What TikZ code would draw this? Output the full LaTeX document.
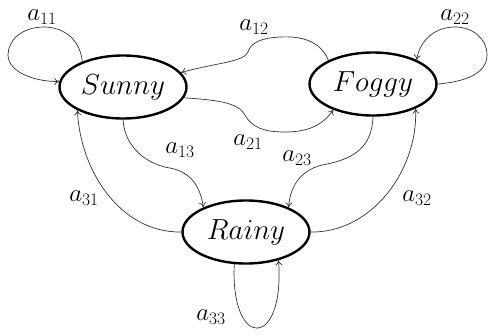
\RequirePackage{fix-cm}
\documentclass[tikz,border=0pt]{standalone}
\usetikzlibrary{shapes.geometric,arrows.meta}
\begin{document}
\begin{tikzpicture}[x=1pt,y=-1pt,
  state/.style={ellipse,draw=black,line width=2.4pt,inner sep=0pt,minimum width=127pt,minimum height=63pt,font=\fontsize{29}{34}\selectfont},
  edge/.style={draw=black!80,line width=0.7pt,-{To[length=5pt,width=7pt]}},
  lbl/.style={inner sep=0pt,font=\fontsize{25}{29}\selectfont}]
\useasboundingbox (0,0) rectangle (490,335);
\node[state] (sunny) at (123,87) {$Sunny$};
\node[state] (foggy) at (373,84) {$Foggy$};
\node[state] (rainy) at (246,232) {$Rainy$};
% labels
\node[lbl] (l11) at (42,17) {$a_{11}$};
\node[lbl] (l12) at (254,27) {$a_{12}$};
\node[lbl] (l22) at (455,17) {$a_{22}$};
\node[lbl] (l13) at (180,150) {$a_{13}$};
\node[lbl] (l21) at (248,142) {$a_{21}$};
\node[lbl] (l23) at (297,158) {$a_{23}$};
\node[lbl] (l31) at (84,198) {$a_{31}$};
\node[lbl] (l32) at (417,198) {$a_{32}$};
\node[lbl] (l33) at (211,317) {$a_{33}$};
% edges
\draw[edge] (sunny.148) .. controls (80,38) and (62,27) .. (44,27) .. controls (22,27) and (8,40) .. (8,55) .. controls (8,72) and (35,82) .. (sunny.175);
\draw[edge] (foggy.0) .. controls (462,82) and (487,75) .. (487,55) .. controls (487,38) and (472,27) .. (455,27) .. controls (435,27) and (420,40) .. (foggy.29);
\draw[edge] (foggy.152) .. controls (320,40) and (300,36) .. (280,37) .. controls (262,38) and (251,42) .. (248,52) .. controls (244,62) and (215,63) .. (sunny.14);
\draw[edge] (sunny.350) .. controls (215,100) and (238,102) .. (245,115) .. controls (252,128) and (265,132) .. (285,132) .. controls (308,132) and (323,125) .. (foggy.213);
\draw[edge] (sunny.270) .. controls (125,150) and (150,165) .. (170,168) .. controls (190,172) and (200,185) .. (rainy.150);
\draw[edge] (foggy.270) .. controls (372,150) and (350,160) .. (322,165) .. controls (302,170) and (290,185) .. (rainy.30);
\draw[edge] (rainy.180) .. controls (120,233) and (80,170) .. (sunny.207);
\draw[edge] (rainy.0) .. controls (372,233) and (418,170) .. (foggy.330);
\draw[edge] (rainy.250) .. controls (230,350) and (285,350) .. (rainy.319);
\end{tikzpicture}
\end{document}
